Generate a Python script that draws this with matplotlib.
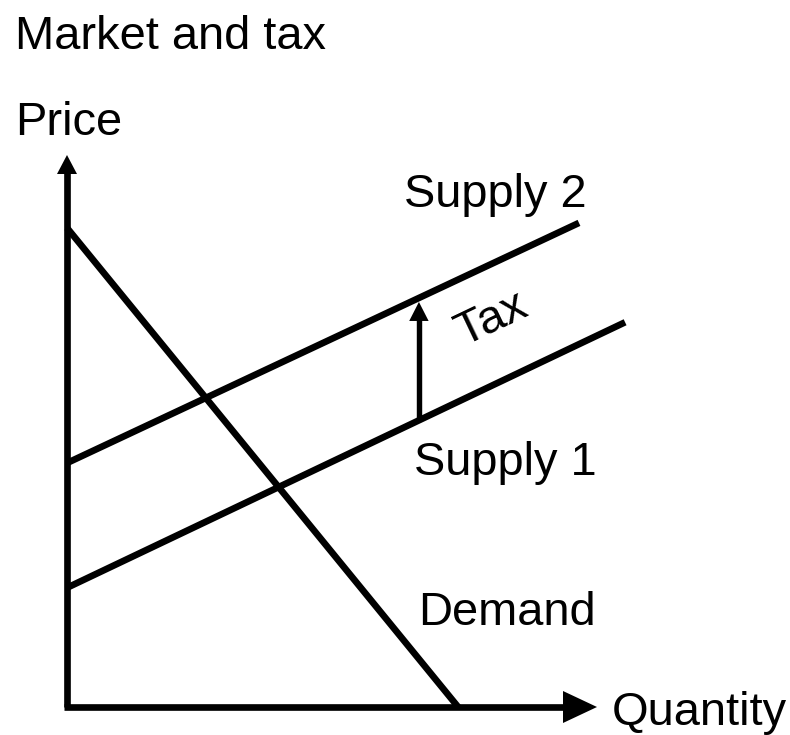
import matplotlib
matplotlib.use("Agg")
import matplotlib.pyplot as plt
import numpy as np

plt.rcParams['font.family'] = ['Liberation Sans', 'DejaVu Sans']

# Curve end points (quantity, price) in arbitrary units
demand_q = [0.0, 7.38]
demand_p = [8.68, 0.0]
supply1_q = [0.0, 10.53]
supply1_p = [2.16, 6.97]
supply2_q = [0.0, 9.66]
supply2_p = [4.42, 8.77]
tax_q = 6.64  # where the tax arrow is drawn

W, H = 790, 735
fig = plt.figure(figsize=(W / 100, H / 100), dpi=100)
ax = fig.add_axes([67 / W, (H - 707) / H, (597 - 67) / W, (707 - 155) / H])
ax.set_xlim(0, 10)
ax.set_ylim(0, 10)
ax.axis('off')
px_x = (597 - 67) / 10   # pixels per unit on each axis
px_y = (707 - 155) / 10

lw = 4.8
line_kw = dict(color='black', lw=lw, solid_capstyle='butt', clip_on=False)
ax.plot(demand_q, demand_p, **line_kw)
ax.plot(supply1_q, supply1_p, **line_kw)
ax.plot(supply2_q, supply2_p, **line_kw)

def head(x, y, dx, dy, length_px, half_px):
    # filled arrow head with its tip at (x, y), pointing along (dx, dy)
    ax.annotate('', xy=(x, y), xytext=(x - dx, y - dy),
                arrowprops=dict(arrowstyle=f'-|>,head_length={length_px * 0.72},'
                                           f'head_width={half_px * 0.72}',
                                mutation_scale=1, lw=0, color='black',
                                shrinkA=0, shrinkB=0),
                annotation_clip=False)

# x axis
ax.plot([-0.06, 10 - 32 / px_x], [0, 0], **line_kw)
head(10, 0, 1, 0, 34, 16)
# y axis
ax.plot([0, 0], [0, 10 - 17 / px_y], **line_kw)
head(0, 10, 0, 1, 19, 10)

# tax arrow between the two supply curves
p_low = np.interp(tax_q, supply1_q, supply1_p)
p_high = np.interp(tax_q, supply2_q, supply2_p) - 4 / px_y
ax.plot([tax_q, tax_q], [p_low, p_high - 17 / px_y], color='black', lw=3.9,
        solid_capstyle='butt')
head(tax_q, p_high, 0, 1, 19, 9.7)

fs = 33.8
def label(px, py, s, **kw):
    fig.text(px / W, 1 - py / H, s, fontsize=fs, ha='left', va='baseline', **kw)

label(15, 49, 'Market and tax')
label(15, 135, 'Price')
label(404, 207, 'Supply 2')
label(414, 475, 'Supply 1')
label(418, 625, 'Demand')
label(612, 725, 'Quantity')
fig.text(492 / W, 1 - 319 / H, 'Tax', fontsize=fs, ha='center', va='center',
         rotation=25.5, rotation_mode='anchor')

fig.savefig('out.png', dpi=100)
